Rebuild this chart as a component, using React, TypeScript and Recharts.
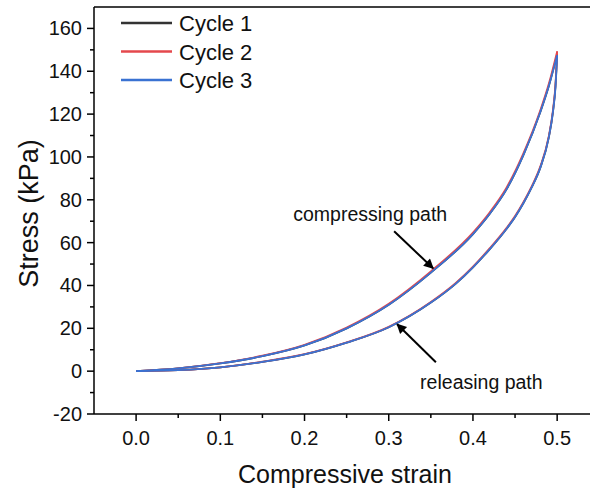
import {
	LineChart,
	Line,
	XAxis,
	YAxis,
	Legend,
	ReferenceLine,
	ReferenceDot,
	Label,
} from "recharts";

// strain points for the compressing (loading) path
const loadStrain = [0, 0.05, 0.1, 0.15, 0.2, 0.25, 0.3, 0.35, 0.4, 0.42, 0.44, 0.46, 0.48, 0.49, 0.5];
const cycle1Load = [0, 1.3, 3.6, 7, 12, 20, 31, 46, 64, 73.5, 85, 101, 121, 133, 148];
const cycle2Load = [0, 1.3, 3.7, 7.2, 12.3, 20.4, 31.5, 46.6, 64.7, 74.2, 85.8, 101.8, 121.8, 134, 149.3];
const cycle3Load = [0, 1.3, 3.6, 7, 12, 20, 31, 46, 64, 73.5, 85, 101, 121, 133, 147.5];

// strain points for the releasing (unloading) path
const unloadStrain = [0, 0.05, 0.1, 0.15, 0.2, 0.25, 0.3, 0.35, 0.38, 0.4, 0.42, 0.44, 0.45, 0.46, 0.47, 0.48, 0.49, 0.495, 0.498, 0.5];
const cycle1Unload = [0, 0.5, 1.8, 4.3, 7.8, 13.3, 20.5, 32, 41, 48.5, 57, 66.5, 72, 78.5, 86, 95, 109, 121, 133, 148];
const cycle2Unload = [0, 0.5, 1.8, 4.4, 7.9, 13.4, 20.7, 32.3, 41.3, 48.8, 57.4, 66.9, 72.4, 79, 86.5, 95.6, 109.6, 121.8, 133.8, 149.3];
const cycle3Unload = [0, 0.5, 1.8, 4.3, 7.8, 13.3, 20.5, 32, 41, 48.5, 57, 66.5, 72, 78.5, 86, 95, 109, 121, 132.5, 147.5];

const cycleNames = ["Cycle 1", "Cycle 2", "Cycle 3"];
const cycleColors = ["#333333", "#e4484d", "#3a72d2"];

const xTicks = [0, 0.05, 0.1, 0.15, 0.2, 0.25, 0.3, 0.35, 0.4, 0.45, 0.5];
const yTicks = [-20, -10, 0, 10, 20, 30, 40, 50, 60, 70, 80, 90, 100, 110, 120, 130, 140, 150, 160];

const font = "'Liberation Sans', Arial, sans-serif";

const toPoints = (strain: number[], stress: number[]) =>
	strain.map((s, i) => ({ strain: s, stress: stress[i] }));

const series = [
	{ load: toPoints(loadStrain, cycle1Load), unload: toPoints(unloadStrain, cycle1Unload) },
	{ load: toPoints(loadStrain, cycle2Load), unload: toPoints(unloadStrain, cycle2Unload) },
	{ load: toPoints(loadStrain, cycle3Load), unload: toPoints(unloadStrain, cycle3Unload) },
];

const XTick = ({ x, y, payload }: any) => {
	const v = payload.value;
	const major = Math.abs(v * 10 - Math.round(v * 10)) < 1e-6;
	return (
		<g>
			<line x1={x} y1={y} x2={x} y2={y + (major ? 7 : 4)} stroke="#000" strokeWidth={1.5} />
			{major && (
				<text x={x} y={y + 31} textAnchor="middle" fontSize={20} fontFamily={font} fill="#111">
					{v.toFixed(1)}
				</text>
			)}
		</g>
	);
};

const YTick = ({ x, y, payload }: any) => {
	const v = payload.value;
	const major = v % 20 === 0;
	return (
		<g>
			<line x1={x} y1={y} x2={x - (major ? 7 : 4)} y2={y} stroke="#000" strokeWidth={1.5} />
			{major && (
				<text x={x - 12} y={y + 7} textAnchor="end" fontSize={20} fontFamily={font} fill="#111">
					{v}
				</text>
			)}
		</g>
	);
};

const LegendBox = () => (
	<svg width={170} height={90}>
		{cycleNames.map((name, i) => (
			<g key={name}>
				<line x1={11} y1={15 + i * 28.5} x2={62} y2={15 + i * 28.5} stroke={cycleColors[i]} strokeWidth={2.5} />
				<text x={69} y={15 + i * 28.5 + 8} fontSize={22} fontFamily={font} fill="#111">
					{name}
				</text>
			</g>
		))}
	</svg>
);

const arrowShape = (p: any) => (
	<line x1={p.x1} y1={p.y1} x2={p.x2} y2={p.y2} stroke="#000" strokeWidth={2} markerEnd="url(#arrowHead)" />
);

const noteShape = (text: string) => (p: any) => (
	<text x={p.cx} y={p.cy + 7} textAnchor="middle" fontSize={19.5} fontFamily={font} fill="#111">
		{text}
	</text>
);

export default function App() {
	return (
		<div style={{ position: "absolute", left: 0, top: 0, background: "#fff" }}>
			<LineChart width={590} height={493} margin={{ top: 7, right: 0, bottom: 0, left: 0 }}>
				<defs>
					<marker
						id="arrowHead"
						viewBox="0 0 10 10"
						refX="9"
						refY="5"
						markerWidth="15"
						markerHeight="10"
						markerUnits="userSpaceOnUse"
						orient="auto"
					>
						<path d="M0,0 L10,5 L0,10 z" fill="#000" />
					</marker>
				</defs>
				<XAxis
					type="number"
					dataKey="strain"
					domain={[-0.05, 0.539]}
					allowDataOverflow
					ticks={xTicks}
					interval={0}
					height={79}
					tickSize={0}
					tickMargin={0}
					tick={<XTick />}
					axisLine={{ stroke: "#000", strokeWidth: 1.5 }}
				>
					<Label
						content={(p: any) => (
							<text
								x={p.viewBox.x + p.viewBox.width / 2 + 3}
								y={483}
								textAnchor="middle"
								fontSize={25}
								fontFamily={font}
								fill="#111"
							>
								Compressive strain
							</text>
						)}
					/>
				</XAxis>
				<YAxis
					type="number"
					domain={[-20, 170]}
					allowDataOverflow
					ticks={yTicks}
					interval={0}
					width={94}
					tickSize={0}
					tickMargin={0}
					tick={<YTick />}
					axisLine={{ stroke: "#000", strokeWidth: 1.5 }}
				>
					<Label
						content={(p: any) => {
							const cy = p.viewBox.y + p.viewBox.height / 2 + 3;
							return (
								<text
									x={29}
									y={cy}
									transform={`rotate(-90 29 ${cy})`}
									textAnchor="middle"
									dominantBaseline="central"
									fontSize={27}
									fontFamily={font}
									fill="#111"
								>
									Stress (kPa)
								</text>
							);
						}}
					/>
				</YAxis>
				<ReferenceLine y={170} stroke="#000" strokeWidth={1.5} />
				{series.map((s, i) => [
					<Line
						key={`load${i}`}
						data={s.load}
						dataKey="stress"
						name={cycleNames[i]}
						type="monotone"
						stroke={cycleColors[i]}
						strokeWidth={1.8}
						dot={false}
						isAnimationActive={false}
					/>,
					<Line
						key={`unload${i}`}
						data={s.unload}
						dataKey="stress"
						name={`${cycleNames[i]} release`}
						type="monotone"
						stroke={cycleColors[i]}
						strokeWidth={1.8}
						dot={false}
						legendType="none"
						isAnimationActive={false}
					/>,
				])}
				<ReferenceLine
					segment={[
						{ x: 0.3064, y: 65.3 },
						{ x: 0.3527, y: 48 },
					]}
					shape={arrowShape}
				/>
				<ReferenceLine
					segment={[
						{ x: 0.356, y: 4.2 },
						{ x: 0.31, y: 21.9 },
					]}
					shape={arrowShape}
				/>
				<ReferenceDot x={0.278} y={73.2} shape={noteShape("compressing path")} />
				<ReferenceDot x={0.41} y={-5.1} shape={noteShape("releasing path")} />
				<Legend
					layout="vertical"
					align="center"
					verticalAlign="middle"
					wrapperStyle={{ left: 110, top: 8, width: 170, height: 90 }}
					content={<LegendBox />}
				/>
			</LineChart>
		</div>
	);
}
